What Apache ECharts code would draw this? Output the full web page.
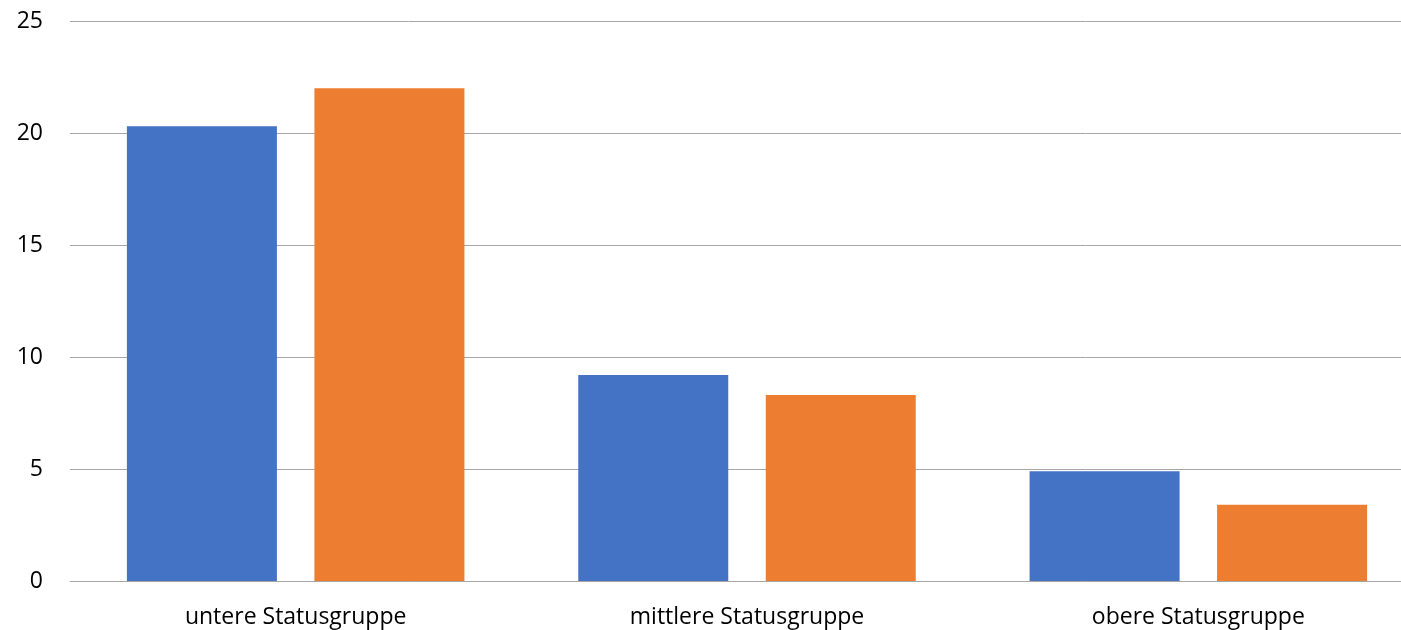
<!DOCTYPE html>
<html><head><meta charset="utf-8">
<script src="https://cdn.jsdelivr.net/npm/echarts@6/dist/echarts.min.js"></script>
<style>html,body{margin:0;padding:0;background:#fff;overflow:hidden}#c{width:1424px;height:630px}</style>
</head><body><div id="c"></div>
<script>
var categories = ['untere Statusgruppe', 'mittlere Statusgruppe', 'obere Statusgruppe'];
var seriesA = [20.3, 9.2, 4.9];
var seriesB = [22.0, 8.3, 3.4];
var yTicks = {min: 0, max: 25, interval: 5};

var chart = echarts.init(document.getElementById('c'));
var font = '"Open Sans", sans-serif';
chart.setOption({
  animation: false,
  grid: {left: 70, right: 0, top: 21, bottom: 49, containLabel: false},
  xAxis: {
    type: 'category', data: categories,
    axisLine: {show: true, lineStyle: {color: '#a6a6a6', width: 1}},
    axisTick: {show: false},
    axisLabel: {color: '#000', fontSize: 23, fontFamily: font, margin: 25}
  },
  yAxis: {
    type: 'value', min: yTicks.min, max: yTicks.max, interval: yTicks.interval,
    axisLine: {show: false}, axisTick: {show: false},
    splitLine: {lineStyle: {color: '#a6a6a6', width: 1}},
    axisLabel: {color: '#000', fontSize: 23, fontFamily: font, margin: 27}
  },
  series: [
    {type: 'bar', data: seriesA, barWidth: 150, barGap: '25%', itemStyle: {color: '#4472C4'}},
    {type: 'bar', data: seriesB, barWidth: 150, barGap: '25%', itemStyle: {color: '#ED7D31'}}
  ]
});
</script></body></html>
